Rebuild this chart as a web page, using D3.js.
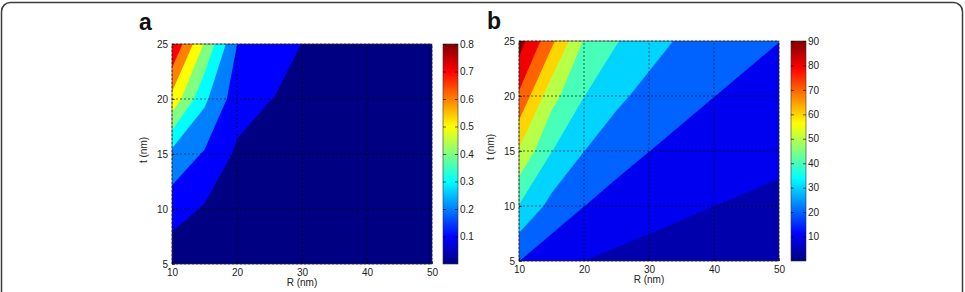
<!DOCTYPE html>
<html>
<head>
<meta charset="utf-8">
<script src="https://cdn.jsdelivr.net/npm/d3@7"></script>
<style>
  body { margin: 0; background: #fff; }
  svg text { font-family: "Liberation Sans", Arial, sans-serif; }
</style>
</head>
<body>
<div id="chart"></div>
<script>
const rValues = [10, 15, 20, 25, 30, 35, 40, 45, 50];
const tValues = [5, 10, 15, 20, 25];
const rTicks = [10, 20, 30, 40, 50];
const tTicks = [5, 10, 15, 20, 25];

// panel a, one row per t (5 -> 25), one column per R (10 -> 50)
const valuesA = [
  [0.032, 0.020, 0.012, 0.009, 0.007, 0.005, 0.004, 0.004, 0.003],
  [0.147, 0.090, 0.045, 0.030, 0.022, 0.018, 0.015, 0.012, 0.010],
  [0.270, 0.190, 0.083, 0.060, 0.048, 0.040, 0.033, 0.028, 0.024],
  [0.570, 0.320, 0.145, 0.102, 0.085, 0.065, 0.052, 0.043, 0.036],
  [0.800, 0.490, 0.201, 0.140, 0.099, 0.075, 0.060, 0.050, 0.042]
];
const levelsA = [0.1, 0.2, 0.3, 0.4, 0.5, 0.6, 0.7];
const colorTicksA = [0.1, 0.2, 0.3, 0.4, 0.5, 0.6, 0.7, 0.8];
const colorRangeA = [0, 0.8];

// panel b
const valuesB = [
  [20.1, 13.4, 10.0,  8.0,  6.7,  5.7,  5.0,  4.4,  4.0],
  [39.6, 26.9, 20.1, 16.0, 13.4, 11.5, 10.0,  8.9,  8.0],
  [59.0, 40.3, 30.1, 24.1, 20.1, 17.2, 15.0, 13.4, 12.0],
  [78.5, 53.5, 40.2, 32.1, 26.8, 23.0, 20.1, 17.9, 16.1],
  [94.5, 72.5, 49.2, 40.6, 34.0, 28.6, 25.1, 22.3, 20.1]
];
const levelsB = [10, 20, 30, 40, 50, 60, 70, 80, 90];
const colorTicksB = [10, 20, 30, 40, 50, 60, 70, 80, 90];
const colorRangeB = [0, 90];

const jet = v => {
  const c = x => Math.round(255 * Math.max(0, Math.min(1, x)));
  return `rgb(${c(1.5 - Math.abs(4 * v - 3))},${c(1.5 - Math.abs(4 * v - 2))},${c(1.5 - Math.abs(4 * v - 1))})`;
};

const panels = [
  { name: "a", values: valuesA, levels: levelsA, cTicks: colorTicksA, cRange: colorRangeA,
    fmt: d3.format(".1f"), left: 172, top: 44, cbarLeft: 443, labelX: 139, labelY: 30 },
  { name: "b", values: valuesB, levels: levelsB, cTicks: colorTicksB, cRange: colorRangeB,
    fmt: d3.format("d"), left: 519, top: 41, cbarLeft: 791, labelX: 487, labelY: 29 }
];
const plotW = 260, plotH = 220, cbarW = 15;
const ink = "#222";

const svg = d3.select("#chart")
  .append("svg")
  .attr("width", 965)
  .attr("height", 292);

svg.append("rect")
  .attr("x", 1.5).attr("y", 2.5)
  .attr("width", 961).attr("height", 330)
  .attr("rx", 9)
  .attr("fill", "none")
  .attr("stroke", "#3c3c3c")
  .attr("stroke-width", 1.5);

const defs = svg.append("defs");
const grad = defs.append("linearGradient")
  .attr("id", "jetGrad")
  .attr("x1", 0).attr("y1", 1).attr("x2", 0).attr("y2", 0);
grad.selectAll("stop")
  .data(d3.range(0, 65).map(i => i / 64))
  .join("stop")
  .attr("offset", d => d)
  .attr("stop-color", d => jet(d));

const styleAxis = g => {
  g.select(".domain").remove();
  g.attr("font-family", "'Liberation Sans', Arial, sans-serif")
    .attr("font-size", 10)
    .style("color", ink);
  g.selectAll(".tick line").attr("stroke", "#000").attr("stroke-width", 0.6);
};

panels.forEach(p => {
  const x = d3.scaleLinear().domain([10, 50]).range([p.left, p.left + plotW]);
  const y = d3.scaleLinear().domain([5, 25]).range([p.top + plotH, p.top]);
  const nx = rValues.length, ny = tValues.length;

  // grid index space -> pixels (sample i sits at i + 0.5 in d3.contours)
  const gx = d3.scaleLinear().domain([0.5, nx - 0.5]).range([x(rValues[0]), x(rValues[nx - 1])]).clamp(true);
  const gy = d3.scaleLinear().domain([0.5, ny - 0.5]).range([y(tValues[0]), y(tValues[ny - 1])]).clamp(true);
  const path = d3.geoPath(d3.geoTransform({
    point(px, py) { this.stream.point(gx(px), gy(py)); }
  }));

  const norm = v => (v - p.cRange[0]) / (p.cRange[1] - p.cRange[0]);
  const bands = d3.contours().size([nx, ny]).thresholds(p.levels)(p.values.flat());

  const g = svg.append("g");
  g.append("rect")
    .attr("x", x(10)).attr("y", y(25))
    .attr("width", plotW).attr("height", plotH)
    .attr("fill", jet(norm(d3.min(p.values.flat()))));

  g.selectAll("path.band")
    .data(bands)
    .join("path")
    .attr("class", "band")
    .attr("d", path)
    .attr("fill", d => jet(norm(d.value)));

  // dotted grid
  g.selectAll("line.gx")
    .data(rTicks)
    .join("line")
    .attr("x1", d => x(d)).attr("x2", d => x(d))
    .attr("y1", y(5)).attr("y2", y(25))
    .attr("stroke", "#000").attr("stroke-width", 0.6)
    .attr("stroke-dasharray", "2,2");
  g.selectAll("line.gy")
    .data(tTicks)
    .join("line")
    .attr("x1", x(10)).attr("x2", x(50))
    .attr("y1", d => y(d)).attr("y2", d => y(d))
    .attr("stroke", "#000").attr("stroke-width", 0.6)
    .attr("stroke-dasharray", "2,2");

  g.append("rect")
    .attr("x", x(10)).attr("y", y(25))
    .attr("width", plotW).attr("height", plotH)
    .attr("fill", "none")
    .attr("stroke", "#333").attr("stroke-width", 0.6);

  g.append("g")
    .attr("transform", `translate(0, ${y(5)})`)
    .call(d3.axisBottom(x).tickValues(rTicks).tickSizeInner(-3).tickSizeOuter(0).tickPadding(5))
    .call(styleAxis);

  g.append("g")
    .attr("transform", `translate(${x(10)}, 0)`)
    .call(d3.axisLeft(y).tickValues(tTicks).tickSizeInner(-3).tickSizeOuter(0).tickPadding(4))
    .call(styleAxis);

  g.append("text")
    .attr("x", (x(10) + x(50)) / 2)
    .attr("y", y(5) + 22)
    .attr("text-anchor", "middle")
    .attr("font-size", 10)
    .attr("fill", ink)
    .text("R (nm)");

  g.append("text")
    .attr("transform", `translate(${x(10) - 25}, ${(y(5) + y(25)) / 2 - 4}) rotate(-90)`)
    .attr("text-anchor", "middle")
    .attr("font-size", 10)
    .attr("fill", ink)
    .text("t (nm)");

  g.append("text")
    .attr("x", p.labelX)
    .attr("y", p.labelY)
    .attr("font-family", "'Liberation Sans Narrow', 'Liberation Sans', Arial, sans-serif")
    .attr("font-weight", "bold")
    .attr("font-size", 23)
    .attr("fill", "#111")
    .text(p.name);

  // colorbar
  const c = d3.scaleLinear().domain(p.cRange).range([p.top + plotH, p.top]);
  g.append("rect")
    .attr("x", p.cbarLeft).attr("y", c(p.cRange[1]))
    .attr("width", cbarW).attr("height", c(p.cRange[0]) - c(p.cRange[1]))
    .attr("fill", "url(#jetGrad)")
    .attr("stroke", "#333").attr("stroke-width", 0.6);

  g.append("g")
    .attr("transform", `translate(${p.cbarLeft + cbarW}, 0)`)
    .call(d3.axisRight(c).tickValues(p.cTicks).tickFormat(p.fmt).tickSizeInner(-3).tickSizeOuter(0).tickPadding(2))
    .call(styleAxis);

  g.append("g")
    .attr("transform", `translate(${p.cbarLeft}, 0)`)
    .call(d3.axisLeft(c).tickValues(p.cTicks).tickFormat("").tickSizeInner(-3).tickSizeOuter(0))
    .call(styleAxis);
});
</script>
</body>
</html>
